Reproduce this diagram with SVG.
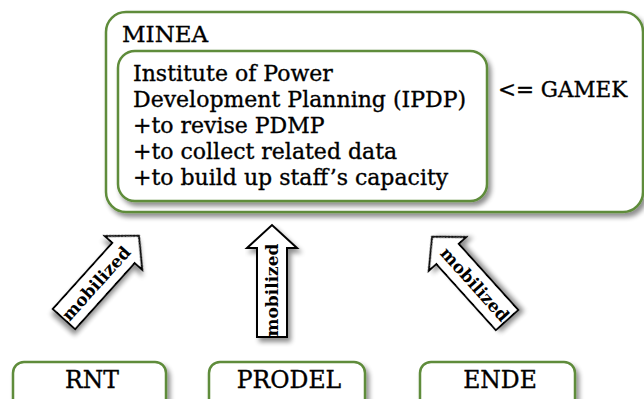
<svg xmlns="http://www.w3.org/2000/svg" width="644" height="399" viewBox="0 0 644 399">
<style>
.box{fill:#fff;stroke:#5E8C3A;stroke-width:2.5}
.arrow{fill:#fff;stroke:#000;stroke-width:2}
.t{font-family:"DejaVu Serif","Liberation Serif",serif;font-size:22px;fill:#000;stroke:#000;stroke-width:0.35}
.n{font-family:"DejaVu Serif","Liberation Serif",serif;font-size:23.5px;fill:#000;stroke:#000;stroke-width:0.35;text-anchor:middle}
.m{font-family:"DejaVu Serif","Liberation Serif",serif;font-size:17px;font-weight:bold;fill:#000;text-anchor:middle;dominant-baseline:central}
</style>
<defs>
<filter id="sh" x="-10%" y="-10%" width="130%" height="140%">
<feGaussianBlur in="SourceAlpha" stdDeviation="2.5"/>
<feOffset dx="3" dy="4" result="b"/>
<feComponentTransfer><feFuncA type="linear" slope="0.45"/></feComponentTransfer>
<feMerge><feMergeNode/><feMergeNode in="SourceGraphic"/></feMerge>
</filter>
<path id="arr" d="M-15,0 L-15,-89 L-25,-89 L0,-112 L25,-89 L15,-89 L15,0 Z"/>
</defs>
<rect width="644" height="399" fill="#fff"/>
<g id="minea">
<rect class="box" x="106" y="12" width="537" height="200" rx="20" filter="url(#sh)"/>
<text class="t" x="122" y="42" style="font-size:23px">MINEA</text>
<text class="t" x="498" y="97" style="font-size:21.5px">&lt;= GAMEK</text>
</g>
<g id="ipdp">
<rect class="box" x="118" y="51" width="369" height="150" rx="17" filter="url(#sh)"/>
<text class="t" x="133" y="81">Institute of Power</text>
<text class="t" x="133" y="107">Development Planning (IPDP)</text>
<text class="t" x="133" y="133">+to revise PDMP</text>
<text class="t" x="133" y="159">+to collect related data</text>
<text class="t" x="133" y="185">+to build up staff’s capacity</text>
</g>
<g id="rnt">
<rect class="box" x="13" y="362" width="153" height="50" rx="11" filter="url(#sh)"/>
<text class="n" x="92" y="388">RNT</text>
</g>
<g id="prodel">
<rect class="box" x="209" y="362" width="156" height="50" rx="11" filter="url(#sh)"/>
<text class="n" x="289" y="388">PRODEL</text>
</g>
<g id="ende">
<rect class="box" x="420" y="362" width="155" height="50" rx="11" filter="url(#sh)"/>
<text class="n" x="500" y="388">ENDE</text>
</g>
<g id="connectors">
<g transform="translate(64,319) rotate(42)">
<use href="#arr" class="arrow" filter="url(#sh)"/>
<text class="m" transform="translate(0,-48) rotate(-90)">mobilized</text>
</g>
<g transform="translate(272,337)">
<use href="#arr" class="arrow" filter="url(#sh)"/>
<text class="m" transform="translate(0,-47) rotate(-90)">mobilized</text>
</g>
<g transform="translate(507,320) rotate(-42)">
<use href="#arr" class="arrow" filter="url(#sh)"/>
<text class="m" transform="translate(0,-48) rotate(90)">mobilized</text>
</g>
</g>
</svg>
